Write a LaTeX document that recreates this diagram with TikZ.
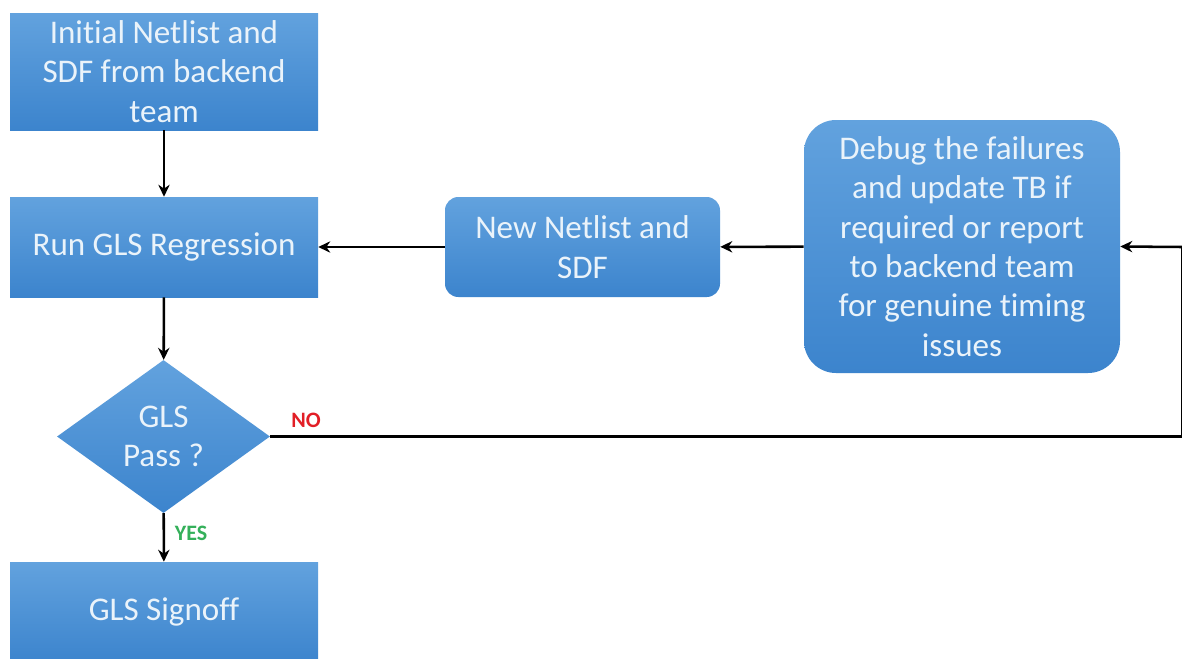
\documentclass[tikz,border=0pt]{standalone}
\usepackage{fontspec}
\setmainfont[Ligatures=NoCommon]{Carlito}
\usetikzlibrary{shapes.geometric,arrows.meta}
\definecolor{boxtop}{RGB}{98,162,222}
\definecolor{boxbot}{RGB}{60,132,205}
\definecolor{boxtext}{RGB}{234,243,250}
\definecolor{nored}{RGB}{226,30,38}
\definecolor{yesgreen}{RGB}{52,176,90}
\tikzset{
  flowbox/.style={rectangle, top color=boxtop, bottom color=boxbot, draw=none,
    text=boxtext, align=center, inner sep=0pt,
    font=\fontsize{24.8pt}{29.5pt}\selectfont},
  decbox/.style={flowbox, diamond},
  conn/.style={line width=1.9pt, draw=black},
  arr/.style={conn, -{Stealth[length=9pt,width=8.5pt]}},
  lbl/.style={font=\fontsize{16.5pt}{19pt}\selectfont\bfseries, inner sep=0pt}
}
\begin{document}
\begin{tikzpicture}[x=0.75pt,y=-0.75pt]
\clip (0,0) rectangle (1182,658);
\fill[white] (0,0) rectangle (1182,658);
\node[flowbox, minimum width=231pt, minimum height=87.75pt] (b1) at (164,71.5)
  {Initial Netlist and\\SDF from backend\\team};
\node[flowbox, minimum width=231pt, minimum height=75pt] (b2) at (164,247)
  {Run GLS Regression};
\node[decbox, minimum width=159.75pt, minimum height=114.75pt] (d) at (163.5,436.5)
  {GLS\\Pass ?};
\node[flowbox, minimum width=231pt, minimum height=75pt] (b4) at (164,612)
  {GLS Signoff};
\node[flowbox, rounded corners=10pt, minimum width=206.25pt, minimum height=75pt] (nn) at (582.5,247)
  {New Netlist and\\SDF};
\node[flowbox, rounded corners=24pt, minimum width=237pt, minimum height=189.75pt] (dbg) at (962,246.5)
  {Debug the failures\\and update TB if\\required or report\\to backend team\\for genuine timing\\issues};
\coordinate (c2) at (1182.5,436.5);
\coordinate (c1) at (1182.5,247);
\draw[arr] (b1) -- (b2);
\draw[arr] (b2) -- (d);
\draw[arr] (d) -- (b4);
\draw[conn] (d.east) -- (c2) -- (c1);
\draw[arr] (c1) -- (dbg.east);
\draw[arr] (dbg) -- (nn);
\draw[arr] (nn) -- (b2);
\node[lbl, text=nored] (no) at (306,420) {NO};
\node[lbl, text=yesgreen] (yes) at (191,533) {YES};
\end{tikzpicture}
\end{document}
